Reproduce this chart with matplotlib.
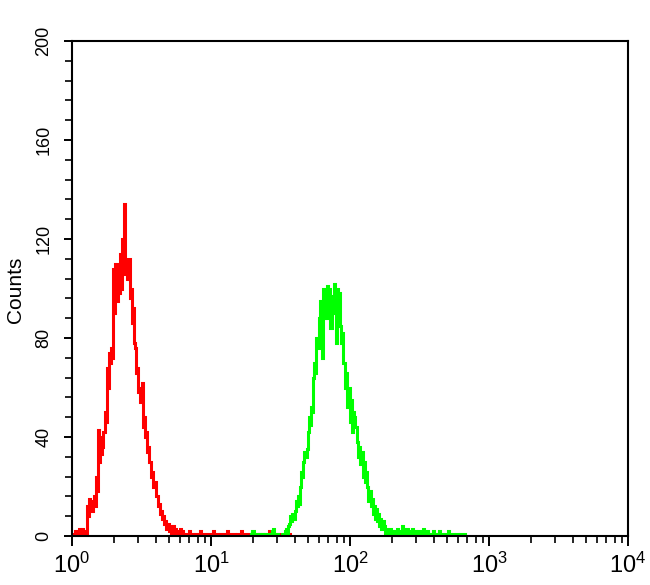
import numpy as np
import matplotlib
matplotlib.use("Agg")
import matplotlib.pyplot as plt
from matplotlib.ticker import MultipleLocator, LogLocator, NullFormatter

plt.rcParams['font.family'] = ['Liberation Sans', 'DejaVu Sans']

# 512 channels over 4 decades (128 channels per decade)
channels_per_decade = 128

red_start = 0
red_counts = [0, 1, 1, 2, 1, 2, 3, 1, 2, 3, 1, 2,
              0, 1, 12, 8, 15, 11, 10, 14, 16, 12, 24, 18, 43, 30, 40, 33, 36, 42,
              50, 46, 68, 60, 74, 70, 76, 72, 108, 90, 110, 95, 104, 98, 114, 100,
              120, 106, 134, 108, 110, 104, 112, 96, 100, 86, 92, 78, 76, 66, 68, 58,
              60, 54, 62, 44, 48, 40, 42, 34, 36, 30, 30, 24, 26, 20, 22, 16, 16, 12,
              13, 9, 10, 7, 8, 5, 6, 3, 5, 2, 4, 1, 2, 4, 1, 3, 2, 0, 1, 3, 0, 2, 1, 0,
              0, 1, 0, 0, 2, 0, 1, 0, 0, 1, 0, 0, 1, 0, 2, 0, 0, 1, 0, 0,
              1, 0, 0, 0, 1, 0, 2, 0, 0, 1, 0, 0, 1, 0, 0, 0, 1, 0, 0, 2,
              0, 1, 0, 0, 0, 1, 0, 0, 1, 0, 0, 0, 2, 0, 1, 0, 0, 0, 1, 0,
              0, 1, 0, 0, 0, 0, 1, 0, 0, 1, 0, 0, 0, 1, 0, 0, 0, 2, 0, 0,
              0, 1, 0, 0, 0, 0, 1, 0, 0, 0, 1, 0, 0, 0, 0, 0, 1]

green_start = 164
green_counts = [0, 1, 2, 2, 0, 1, 0, 0, 1, 0, 0, 1, 0, 0, 1, 0, 0, 1, 0, 1, 2, 3, 1, 0, 0, 1, 0,
                0, 0, 1, 0, 0,
                2, 3, 1, 4,
                5, 8, 6, 9, 7,
                10, 14, 12, 16, 13,
                20, 26, 24,
                30, 34, 32, 35,
                42, 48, 45, 52, 50,
                64, 70, 66,
                80, 76, 88,
                95, 90, 72, 100, 88,
                96, 88, 101, 92,
                100, 84, 97, 90, 102,
                95, 78, 100, 90, 98,
                85, 78, 82,
                70, 60, 66, 52, 58,
                60, 46, 55, 42, 50,
                48, 44,
                38, 32, 36, 29, 34,
                34, 24, 30, 22, 26,
                20, 14, 18, 12,
                15, 9, 12, 7, 11, 6,
                9, 4, 7, 3, 6,
                4, 1, 3, 0, 2, 1, 3, 0, 2, 1,
                2, 0, 3, 1, 0, 2, 1, 4, 0, 2, 1, 3, 0, 1, 2, 0, 3, 1, 0, 2,
                1, 0, 2, 1, 0, 1, 3, 0, 1, 0, 2, 1, 0, 1, 0, 2, 0, 1, 0, 1,
                0, 2, 0, 0, 1, 0, 1, 0, 0, 2, 0, 1, 0, 0, 1, 0, 0, 1, 0, 0,
                1, 0, 0, 0, 1, 0, 0]

y_ticks = [0, 40, 80, 120, 160, 200]
x_ticks = [1, 10, 100, 1000, 10000]
x_tick_labels = [r'$\mathregular{10^{0}}$', r'$\mathregular{10^{1}}$', r'$\mathregular{10^{2}}$',
                 r'$\mathregular{10^{3}}$', r'$\mathregular{10^{4}}$']


def edges(start, n):
    return 10 ** (np.arange(start, start + n + 1) / channels_per_decade)


fig = plt.figure(figsize=(6.5, 5.85), dpi=100)
ax = fig.add_axes([72 / 650, 49 / 585, 556 / 650, 495 / 585])

ax.stairs(red_counts, edges(red_start, len(red_counts)), color='#ff0000', lw=2.2)
ax.stairs(green_counts, edges(green_start, len(green_counts)), color='#00ff00', lw=2.2)

ax.set_xscale('log')
ax.set_xlim(1, 10000)
ax.set_ylim(0, 200)

ax.set_xticks(x_ticks)
ax.set_xticklabels(x_tick_labels, fontsize=17)
ax.xaxis.set_minor_locator(LogLocator(base=10, subs=np.arange(2, 10)))
ax.xaxis.set_minor_formatter(NullFormatter())

ax.set_yticks(y_ticks)
ax.set_yticklabels([str(v) for v in y_ticks], fontsize=13, rotation=90, va='center')
ax.yaxis.set_minor_locator(MultipleLocator(8))

ax.tick_params(axis='x', which='major', direction='out', length=7, width=1.4, pad=5)
ax.tick_params(axis='x', which='minor', direction='out', length=5, width=1.2)
ax.tick_params(axis='y', which='major', direction='out', length=6, width=1.4, pad=8)
ax.tick_params(axis='y', which='minor', direction='out', length=5, width=1.2)

for s in ax.spines.values():
    s.set_linewidth(1.5)
    s.set_color('black')

fig.text(16 / 650, 1 - 290 / 585, 'Counts', fontsize=15, rotation=90,
         ha='center', va='center')

fig.savefig('out.png', dpi=100)
